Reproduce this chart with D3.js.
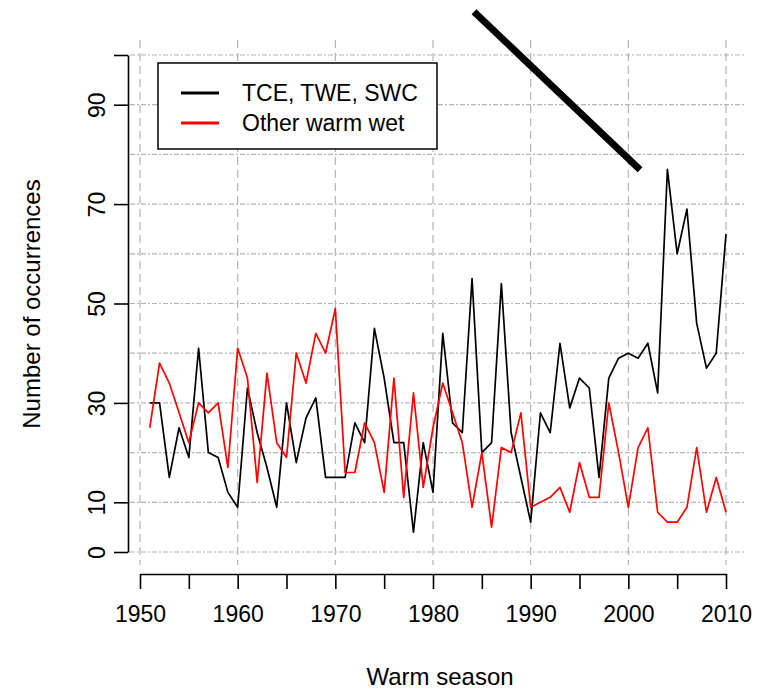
<!DOCTYPE html>
<html>
<head>
<meta charset="utf-8">
<title>Warm season occurrences</title>
<script src="https://cdn.jsdelivr.net/npm/d3@7"></script>
<style>
body { margin: 0; background: #fff; }
text { font-family: "Liberation Sans", Arial, sans-serif; }
</style>
</head>
<body>
<script>
// data
var years = d3.range(1951, 2011);
var tceTweSwc = [30,30,15,25,19,41,20,19,12,9,
                 33,24,17,9,30,18,27,31,15,15,
                 15,26,22,45,35,22,22,4,22,12,
                 44,26,24,55,20,22,54,24,15,6,
                 28,24,42,29,35,33,15,35,39,40,
                 39,42,32,77,60,69,46,37,40,64];
var otherWarmWet = [25,38,34,28,22,30,28,30,17,41,
                    35,14,36,22,19,40,34,44,40,49,
                    16,16,26,22,12,35,11,32,13,25,
                    34,28,22,9,20,5,21,20,28,9,
                    10,11,13,8,18,11,11,30,20,9,
                    21,25,8,6,6,9,21,8,15,8];
var seriesNames = ["TCE, TWE, SWC", "Other warm wet"];
var seriesColors = ["#000000", "#ff0000"];
var yTicks = [0,10,30,50,70,90,100];
var xTicks = d3.range(1950, 2011, 5);
var gridYears = d3.range(1950, 2011, 10);
var gridValues = d3.range(0, 101, 10);
// the thick pointer line, in data units
var pointer = [[1984.2, 108.7], [2001.2, 76.9]];

var width = 761, height = 690;

var svg = d3.select("body").append("svg")
    .attr("width", width)
    .attr("height", height);

var x = d3.scaleLinear().domain([1950, 2010]).range([140, 726]);
var y = d3.scaleLinear().domain([0, 100]).range([552, 55]);

// grid
svg.append("g").selectAll("line")
    .data(gridValues)
    .enter().append("line")
    .attr("x1", 130).attr("x2", 745)
    .attr("y1", function(d){ return y(d); })
    .attr("y2", function(d){ return y(d); })
    .attr("stroke", "#b4b4b4")
    .attr("stroke-width", 1.2)
    .attr("stroke-dasharray", "5,2,2,2");

svg.append("g").selectAll("line")
    .data(gridYears)
    .enter().append("line")
    .attr("y1", 40).attr("y2", 565)
    .attr("x1", function(d){ return x(d); })
    .attr("x2", function(d){ return x(d); })
    .attr("stroke", "#b4b4b4")
    .attr("stroke-width", 1.2)
    .attr("stroke-dasharray", "8,5");

// series
var line = d3.line()
    .x(function(d, i){ return x(years[i]); })
    .y(function(d){ return y(d); });

[tceTweSwc, otherWarmWet].forEach(function(s, k){
    svg.append("path")
        .datum(s)
        .attr("d", line)
        .attr("fill", "none")
        .attr("stroke", seriesColors[k])
        .attr("stroke-width", 1.7)
        .attr("stroke-linejoin", "round");
});

// axes
var yAxis = svg.append("g")
    .attr("transform", "translate(128,0)")
    .call(d3.axisLeft(y).tickValues(yTicks)
        .tickFormat(function(d){ return d === 100 ? "" : d; })
        .tickSize(14).tickSizeOuter(0));
yAxis.selectAll("text")
    .attr("x", null).attr("dy", null)
    .attr("transform", "translate(-23,0) rotate(-90)")
    .attr("text-anchor", "middle")
    .attr("font-size", 23)
    .attr("fill", "#000");

var xAxis = svg.append("g")
    .attr("transform", "translate(0,574)")
    .call(d3.axisBottom(x).tickValues(xTicks)
        .tickFormat(function(d){ return d % 10 === 0 ? d : ""; })
        .tickSize(15).tickSizeOuter(0));
xAxis.selectAll("text")
    .attr("y", 48).attr("dy", null)
    .attr("font-size", 23)
    .attr("fill", "#000");

svg.selectAll(".domain, .tick line")
    .attr("stroke", "#000")
    .attr("stroke-width", 1.6);
svg.selectAll(".tick text").attr("font-family", "Liberation Sans, Arial, sans-serif");

// titles
svg.append("text")
    .attr("x", 440).attr("y", 685)
    .attr("text-anchor", "middle")
    .attr("font-size", 24)
    .text("Warm season");

svg.append("text")
    .attr("transform", "translate(40,304) rotate(-90)")
    .attr("text-anchor", "middle")
    .attr("font-size", 24)
    .text("Number of occurrences");

// legend
var legend = svg.append("g");
legend.append("rect")
    .attr("x", 158).attr("y", 63)
    .attr("width", 279).attr("height", 86)
    .attr("fill", "#fff")
    .attr("stroke", "#000")
    .attr("stroke-width", 1.5);
seriesNames.forEach(function(name, i){
    var ly = 93 + i * 30;
    legend.append("line")
        .attr("x1", 181).attr("x2", 219)
        .attr("y1", ly).attr("y2", ly)
        .attr("stroke", seriesColors[i])
        .attr("stroke-width", 3);
    legend.append("text")
        .attr("x", 242).attr("y", ly + 8)
        .attr("font-size", 23)
        .text(name);
});

// pointer line
svg.append("line")
    .attr("x1", x(pointer[0][0])).attr("y1", y(pointer[0][1]))
    .attr("x2", x(pointer[1][0])).attr("y2", y(pointer[1][1]))
    .attr("stroke", "#000")
    .attr("stroke-width", 7);
</script>
</body>
</html>
